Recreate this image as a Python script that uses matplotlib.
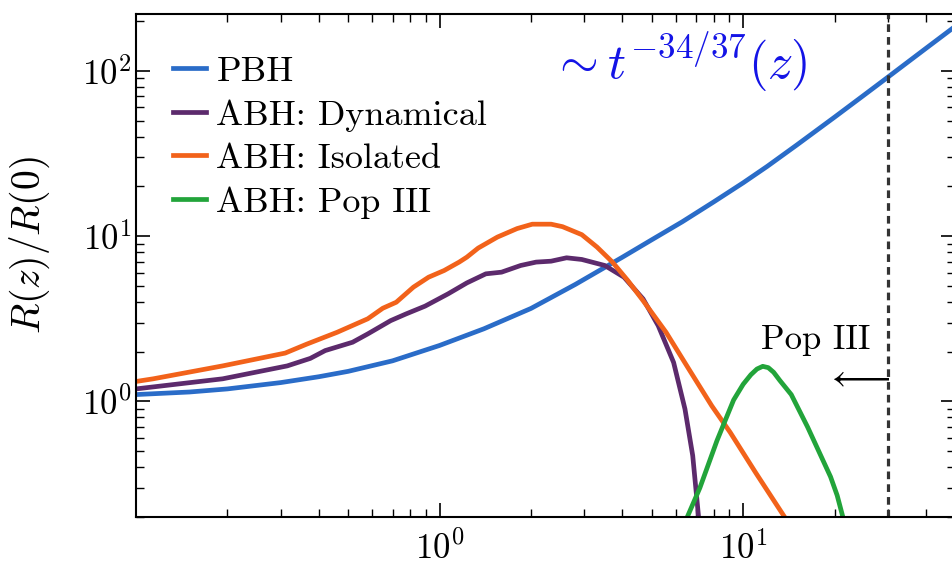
import numpy as np
import matplotlib
matplotlib.use("Agg")
import matplotlib.pyplot as plt

plt.rcParams['font.family'] = 'serif'
plt.rcParams['font.serif'] = ['cmr10', 'DejaVu Serif']
plt.rcParams['mathtext.fontset'] = 'cm'
plt.rcParams['axes.formatter.use_mathtext'] = True
plt.rcParams['axes.unicode_minus'] = False

# ---- data ----
pbh_z = [0.1, 0.15, 0.2, 0.3, 0.4, 0.5, 0.7, 1.0, 1.4, 2.0, 2.8, 4.0, 5.0, 6.3, 8.0, 10.0, 12.0, 15.0, 20.0, 25.0, 30.0, 40.0, 50.0]
pbh_r = [1.10, 1.14, 1.19, 1.30, 1.41, 1.52, 1.76, 2.18, 2.75, 3.65, 5.1, 7.45, 9.5, 12.2, 16.1, 21.0, 26.4, 35.5, 52.4, 71.2, 91.6, 136.6, 186.0]

dyn_z = [0.1, 0.193, 0.315, 0.375, 0.42, 0.517, 0.58, 0.69, 0.775, 0.896, 1.066, 1.23, 1.42, 1.60, 1.85, 2.08, 2.33, 2.62, 2.94, 3.50, 4.05, 4.68, 5.25, 5.90, 6.43, 6.82, 7.13, 7.3]
dyn_r = [1.19, 1.37, 1.64, 1.82, 2.03, 2.28, 2.56, 3.08, 3.38, 3.77, 4.47, 5.21, 5.91, 6.05, 6.64, 6.96, 7.05, 7.39, 7.22, 6.64, 5.64, 4.17, 2.87, 1.72, 0.90, 0.47, 0.20, 0.12]

iso_z = [0.1, 0.114, 0.193, 0.31, 0.365, 0.46, 0.58, 0.65, 0.72, 0.82, 0.92, 1.035, 1.16, 1.23, 1.34, 1.55, 1.80, 2.02, 2.33, 2.54, 2.94, 3.30, 3.71, 4.17, 4.68, 5.57, 6.62, 7.88, 9.06, 11.0, 14.5]
iso_r = [1.32, 1.37, 1.64, 1.96, 2.22, 2.62, 3.16, 3.66, 3.98, 4.91, 5.64, 6.19, 6.96, 7.46, 8.46, 9.86, 11.1, 11.8, 11.8, 11.4, 10.2, 8.58, 6.96, 5.38, 4.07, 2.62, 1.57, 0.94, 0.65, 0.37, 0.17]

pop_z = [6.3, 7.2, 8.2, 9.3, 10.0, 10.6, 11.1, 11.6, 12.1, 12.6, 13.2, 14.4, 16.3, 19.4, 20.4, 21.8]
pop_r = [0.17, 0.30, 0.58, 1.02, 1.27, 1.45, 1.57, 1.63, 1.60, 1.50, 1.34, 1.10, 0.70, 0.35, 0.27, 0.17]

labels = ['PBH', 'ABH: Dynamical', 'ABH: Isolated', 'ABH: Pop III']
colors = ['#2a6cc8', '#5c2a6c', '#f2621a', '#22a43a']

fig = plt.figure(figsize=(9.53, 5.65), dpi=100)
ax = fig.add_axes([0.1427, 0.085, 0.8598, 0.89])

for zs, rs, lab, c in zip([pbh_z, dyn_z, iso_z, pop_z], [pbh_r, dyn_r, iso_r, pop_r], labels, colors):
    ax.plot(zs, rs, color=c, lw=3.4, label=lab, solid_joinstyle='round')

ax.axvline(30, color='#333333', ls=(0, (2.4, 1.6)), lw=2.3)

ax.set_xscale('log')
ax.set_yscale('log')
ax.set_xlim(0.1, 50)
ax.set_ylim(0.2, 220)

ax.set_xticks([1, 10])
ax.set_yticks([1, 10, 100])
ax.tick_params(which='both', direction='in', top=True, right=True, labelsize=25)
ax.tick_params(axis='x', which='major', pad=10)
ax.tick_params(which='major', length=10, width=1.2)
ax.tick_params(which='minor', length=6, width=1.0)
for s in ax.spines.values():
    s.set_linewidth(1.5)

ax.set_ylabel(r'$R(z)/R(0)$', fontsize=28.5)
ax.yaxis.set_label_coords(-0.102, 0.54)

ax.text(2.33, 113, r'$\sim t^{-34/37}(z)$', color='#1414e6', fontsize=36, ha='left', va='center')
ax.text(17.3, 2.34, 'Pop III', fontsize=25, ha='center', va='center')
ax.text(23.9, 1.40, r'$\longleftarrow$', fontsize=27, ha='center', va='center')

leg = ax.legend(loc='upper left', fontsize=26, frameon=False, handlelength=0.9,
                handletextpad=0.3, labelspacing=0.31, borderaxespad=0.4,
                bbox_to_anchor=(0.01, 0.975))

fig.savefig('out.png', dpi=100)
